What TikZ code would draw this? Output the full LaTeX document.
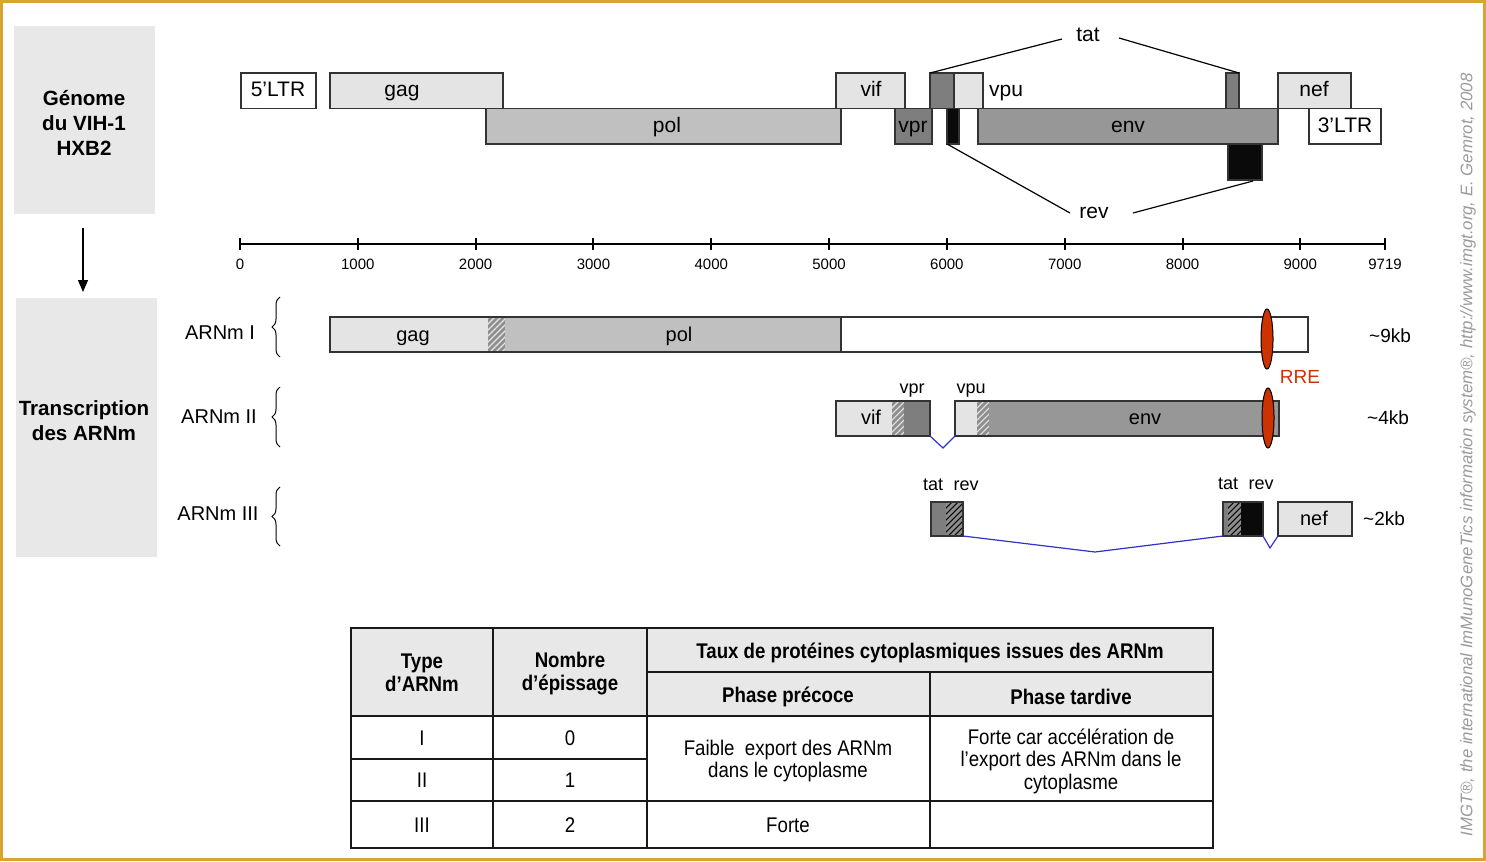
\documentclass[tikz,border=0pt]{standalone}
\usepackage{fontspec}
\setmainfont{Liberation Sans}
\newfontfamily\narrowfont[FakeStretch=0.88]{Liberation Sans}
\usetikzlibrary{decorations.pathreplacing,arrows.meta}
\definecolor{lightg}{HTML}{E4E4E4}
\definecolor{polg}{HTML}{C0C0C0}
\definecolor{envg}{HTML}{979797}
\definecolor{darkg}{HTML}{7E7E7E}
\definecolor{revk}{HTML}{0A0A0A}
\definecolor{panel}{HTML}{E8E8E8}
\definecolor{framec}{HTML}{D9A431}
\definecolor{rrec}{HTML}{CC3300}
\definecolor{splicec}{HTML}{3333CC}
\definecolor{hatchg}{HTML}{8E8E8E}
\definecolor{markc}{HTML}{9A9A9A}
\newcommand{\hatchbox}[6]{%
  \begin{scope}
    \clip (#1,#2) rectangle (#3,#4);
    \fill[#5] (#1,#2) rectangle (#3,#4);
    \foreach \k in {-66,-60,...,30}
      \draw[#6,line width=1.4pt] ({#1+\k},{#4+5}) -- ++(75,-75);
  \end{scope}}
\tikzset{
  boxline/.style={draw=black!80,line width=0.7pt},
  txt/.style={inner sep=0pt,text height=1.45ex,text depth=0.3ex},
  glab/.style={txt,font=\fontsize{10.5}{12}\selectfont},
  mlab/.style={txt,font=\fontsize{10}{12}\selectfont},
  smalllab/.style={txt,font=\fontsize{9}{11}\selectfont},
  axlab/.style={txt,font=\fontsize{7.5}{9}\selectfont},
  conn/.style={line width=0.6pt},
  splicel/.style={draw=splicec,line width=0.6pt},
  tline/.style={line width=1pt,draw=black!90},
  thead/.style={inner sep=0pt,font=\narrowfont\bfseries\fontsize{10.6}{11.5}\selectfont,align=center},
  tbody/.style={inner sep=0pt,font=\narrowfont\fontsize{10.6}{11.3}\selectfont,align=center},
  paneltext/.style={inner sep=0pt,font=\bfseries\fontsize{10.3}{12.5}\selectfont,align=center},
  rreshape/.style={fill=rrec,draw=black,line width=0.5pt},
  bracel/.style={decorate,decoration={brace,amplitude=4pt},line width=0.5pt},
}
\begin{document}
\begin{tikzpicture}[x=0.5pt,y=-0.5pt]
\useasboundingbox (0,0) rectangle (1486,861);
\draw[framec,line width=1.1pt] (1.5,1.5) rectangle (1484.5,859.5);

% left panels
\fill[panel] (14,26) rectangle (155,214);
\node[paneltext] (gpanel) at (84,123) {Génome\\du VIH-1\\HXB2};
\fill[panel] (16,298) rectangle (157,557);
\node[paneltext] (tpanel) at (84,421) {Transcription\\des ARNm};
\coordinate (arrA) at (83,228);
\coordinate (arrB) at (83,292);
\draw[line width=0.6pt,-{Triangle[length=6pt,width=5pt]}] (arrA) -- (arrB);

% ---------- genome ----------
\draw[boxline,fill=white] (241,73) rectangle (316,108.5);
\node[glab] (ltr5) at (278,90) {5’LTR};
\draw[boxline,fill=lightg] (330,73) rectangle (503,108.5);
\node[glab] (gagG) at (402,90) {gag};
\draw[boxline,fill=lightg] (836,73) rectangle (905,108.5);
\node[glab] (vifG) at (871,90) {vif};
\draw[boxline,fill=darkg] (930,73) rectangle (954,108.5);
\draw[boxline,fill=lightg] (954,73) rectangle (983,108.5);
\node[glab] (vpuG) at (1006,90) {vpu};
\draw[boxline,fill=darkg] (1226,73) rectangle (1239,108.5);
\draw[boxline,fill=lightg] (1278,73) rectangle (1351,108.5);
\node[glab] (nefG) at (1314,90) {nef};

\draw[boxline,fill=polg] (486,108.5) rectangle (841,144);
\node[glab] (polG) at (667,126) {pol};
\draw[boxline,fill=darkg] (895,108.5) rectangle (932,144);
\node[glab] (vprG) at (913,126) {vpr};
\draw[boxline,fill=revk] (947,108.5) rectangle (959,144);
\draw[boxline,fill=envg] (978,108.5) rectangle (1278,144);
\node[glab] (envG) at (1128,126) {env};
\draw[boxline,fill=white] (1309,108.5) rectangle (1381,144);
\node[glab] (ltr3) at (1345,126) {3’LTR};
\draw[boxline,fill=revk] (1228,144) rectangle (1262,180);

\node[glab] (tatG) at (1088,35) {tat};
\coordinate (tat1c) at (930,73);
\coordinate (tat2c) at (1239,73);
\coordinate (tatL) at (1062,39);
\coordinate (tatR) at (1119,38);
\draw[conn] (tat1c) -- (tatL);
\draw[conn] (tatR) -- (tat2c);
\node[glab] (revG) at (1094,212) {rev};
\coordinate (rev1c) at (947,144);
\coordinate (rev2c) at (1253,181);
\coordinate (revL) at (1070,213);
\coordinate (revR) at (1133,213);
\draw[conn] (rev1c) -- (revL);
\draw[conn] (revR) -- (rev2c);

% ---------- axis ----------
\coordinate (ax0) at (240,244);
\coordinate (ax1) at (1385,244);
\draw[line width=1pt] (ax0) -- (ax1);
\foreach \v in {0,1000,...,9000,9719} {
  \pgfmathsetmacro{\xx}{240+\v*0.11781}
  \draw[line width=1pt] (\xx,238) -- (\xx,250);
  \node[axlab] at (\xx,263) {\v};
}

% ---------- ARNm I ----------
\node[mlab] (l1) at (220,333) {ARNm I};
\draw[bracel] (280,357) -- (280,297);
\fill[lightg] (330,317) rectangle (488,352);
\hatchbox{488}{317}{505}{352}{lightg}{hatchg}
\fill[polg] (505,317) rectangle (841,352);
\fill[white] (841,317) rectangle (1308,352);
\draw[boxline] (330,317) rectangle (1308,352);
\draw[boxline] (841,317) -- (841,352);
\node[mlab] (gag1) at (413,335) {gag};
\node[mlab] (pol1) at (679,335) {pol};
\draw[rreshape] (1267,339) ellipse [x radius=6, y radius=30];
\node[txt,font=\fontsize{9.5}{11}\selectfont,text=rrec] (rre) at (1300,377) {RRE};
\node[txt,font=\fontsize{9.5}{11}\selectfont] (kb9) at (1390,336) {\textasciitilde9kb};

% ---------- ARNm II ----------
\node[mlab] (l2) at (219,417) {ARNm II};
\draw[bracel] (280,447) -- (280,387);
\fill[lightg] (836,401) rectangle (892,436);
\hatchbox{892}{401}{904}{436}{lightg}{hatchg}
\fill[darkg] (904,401) rectangle (930,436);
\draw[boxline] (836,401) rectangle (930,436);
\node[mlab] (vif2) at (871,418) {vif};
\node[smalllab] (vpr2) at (912,387) {vpr};
\fill[lightg] (955,401) rectangle (977,436);
\hatchbox{977}{401}{989}{436}{lightg}{hatchg}
\fill[envg] (989,401) rectangle (1279,436);
\draw[boxline] (955,401) rectangle (1279,436);
\node[mlab] (env2) at (1145,418) {env};
\node[smalllab] (vpu2) at (971,387) {vpu};
\coordinate (s2a) at (930,436);
\coordinate (s2b) at (943,448);
\coordinate (s2c) at (955,436);
\draw[splicel] (s2a) -- (s2b) -- (s2c);
\draw[rreshape] (1268,418) ellipse [x radius=6, y radius=30];
\node[txt,font=\fontsize{9.5}{11}\selectfont] (kb4) at (1388,418) {\textasciitilde4kb};

% ---------- ARNm III ----------
\node[mlab] (l3) at (218,514) {ARNm III};
\draw[bracel] (280,546) -- (280,487);
\fill[darkg] (931,502) rectangle (946,536);
\hatchbox{946}{502}{963}{536}{revk}{hatchg}
\draw[boxline] (931,502) rectangle (963,536);
\fill[darkg] (1223,502) rectangle (1228,536);
\hatchbox{1228}{502}{1241}{536}{revk}{hatchg}
\fill[revk] (1241,502) rectangle (1263,536);
\draw[boxline] (1223,502) rectangle (1263,536);
\draw[boxline,fill=lightg] (1278,502) rectangle (1352,536);
\node[mlab] (nef3) at (1314,519) {nef};
\node[smalllab] (tat3a) at (933,484) {tat};
\node[smalllab] (rev3a) at (966,484) {rev};
\node[smalllab] (tat3b) at (1228,483) {tat};
\node[smalllab] (rev3b) at (1261,483) {rev};
\coordinate (s3a) at (963,536);
\coordinate (s3b) at (1095,552);
\coordinate (s3c) at (1223,536);
\draw[splicel] (s3a) -- (s3b) -- (s3c);
\coordinate (s3d) at (1263,536);
\coordinate (s3e) at (1270,548);
\coordinate (s3f) at (1278,536);
\draw[splicel] (s3d) -- (s3e) -- (s3f);
\node[txt,font=\fontsize{9.5}{11}\selectfont] (kb2) at (1384,519) {\textasciitilde2kb};

% ---------- table ----------
\fill[panel] (351,628) rectangle (1213,716);
\draw[tline] (493,628) -- (493,848);
\draw[tline] (647,628) -- (647,848);
\draw[tline] (930,672) -- (930,848);
\draw[tline] (647,672) -- (1213,672);
\draw[tline] (351,716) -- (1213,716);
\draw[tline] (351,759) -- (647,759);
\draw[tline] (351,801) -- (1213,801);
\draw[tline] (351,628) rectangle (1213,848);
\node[thead] (h1) at (422,673) {Type\\d’ARNm};
\node[thead] (h2) at (570,674) {Nombre\\d’épissage};
\node[thead] (h3) at (930,653) {Taux de protéines cytoplasmiques issues des ARNm};
\node[thead] (h4) at (788,697) {Phase précoce};
\node[thead] (h5) at (1071,697) {Phase tardive};
\node[tbody] (c11) at (422,738) {I};
\node[tbody] (c12) at (570,738) {0};
\node[tbody] (c21) at (422,780) {II};
\node[tbody] (c22) at (570,780) {1};
\node[tbody] (c3) at (788,761) {Faible\ \ export des ARNm\\dans le cytoplasme};
\node[tbody] (c4) at (1071,761) {Forte car accélération de\\l’export des ARNm dans le\\cytoplasme};
\node[tbody] (c51) at (422,825) {III};
\node[tbody] (c52) at (570,825) {2};
\node[tbody] (c53) at (788,825) {Forte};

% ---------- watermark ----------
\node[rotate=90,inner sep=0pt,text=markc,font=\itshape\fontsize{8.4}{9}\selectfont] (mark) at (1468,455) {IMGT®, the international ImMunoGeneTics information system®, http://www.imgt.org, E. Gemrot, 2008};
\end{tikzpicture}
\end{document}
